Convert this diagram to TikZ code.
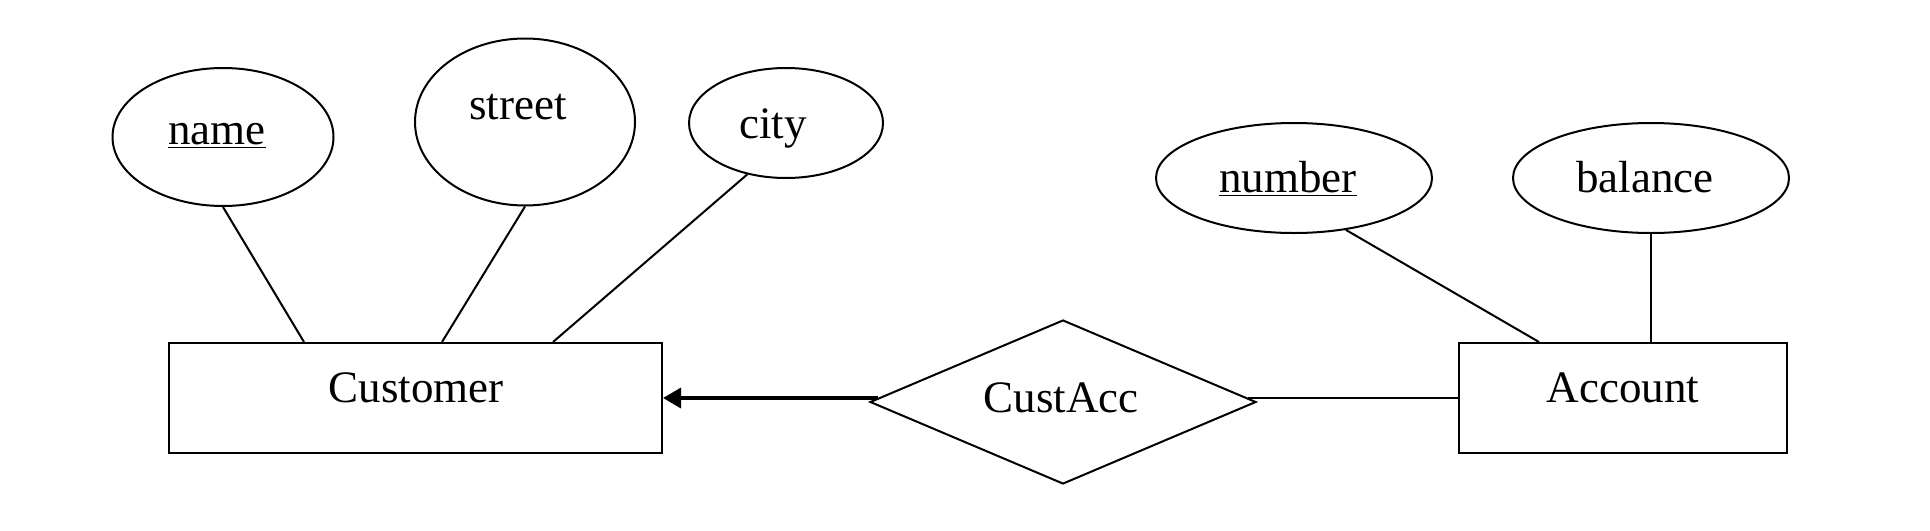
\documentclass[tikz,border=0pt]{standalone}
\usepackage{fontspec}
\setmainfont{Liberation Serif}
\usetikzlibrary{shapes.geometric,arrows.meta,calc}
\begin{document}
\begin{tikzpicture}[x=0.5pt,y=-0.5pt,
  attr/.style={draw,ellipse,line width=1pt,inner sep=0pt},
  ent/.style={draw,rectangle,line width=1pt,inner sep=0pt,minimum width=#1,minimum height=55pt},
  rel/.style={draw,diamond,line width=1pt,inner sep=0pt,minimum width=193pt,minimum height=82pt},
  lbl/.style={anchor=base,inner sep=0pt,font=\fontsize{22.5pt}{27pt}\selectfont},
  conn/.style={line width=1pt},
  ]
\useasboundingbox (0,0) rectangle (1930,530);
% attributes
\node[attr,minimum width=110.5pt,minimum height=69pt] (name) at (223,137) {};
\node[attr,minimum width=110pt,minimum height=83.5pt] (street) at (525,122) {};
\node[attr,minimum width=97pt,minimum height=55pt] (city) at (786,123) {};
\node[attr,minimum width=138pt,minimum height=55pt] (number) at (1294,178) {};
\node[attr,minimum width=138pt,minimum height=55pt] (balance) at (1651,178) {};
% entities
\node[ent=246.5pt] (cust) at (415.5,398) {};
\node[ent=164pt] (acc) at (1623,398) {};
% relationship
\node[rel] (ca) at (1063,402) {};
% labels
\node[lbl] (tname) at (217,144) {\underline{name}};
\node[lbl] (tstreet) at (518,119) {street};
\node[lbl] (tcity) at (773,138) {city};
\node[lbl] (tnumber) at (1288,192) {\underline{number}};
\node[lbl] (tbalance) at (1645,192) {balance};
\node[lbl] (tcust) at (416,402) {Customer};
\node[lbl] (tacc) at (1623,402) {Account};
\node[lbl] (tca) at (1061,412) {CustAcc};
% connectors
\draw[conn] (name.south) -- ($(cust.north west)+(136,0)$);
\draw[conn] (street.south) -- ($(cust.north west)+(274,0)$);
\draw[conn] (city.-127) -- ($(cust.north west)+(385,0)$);
\draw[conn] (number.-45) -- ($(acc.north west)+(81,0)$);
\draw[conn] (balance.south) -- (balance.south |- acc.north);
\draw[line width=1.75pt,-{Triangle[length=9pt,width=10pt]}] ($(ca.west)+(9,-4)$) -- (cust.east);
\draw[conn] ($(ca.east)+(-9,-4)$) -- (acc.west);
\end{tikzpicture}
\end{document}
